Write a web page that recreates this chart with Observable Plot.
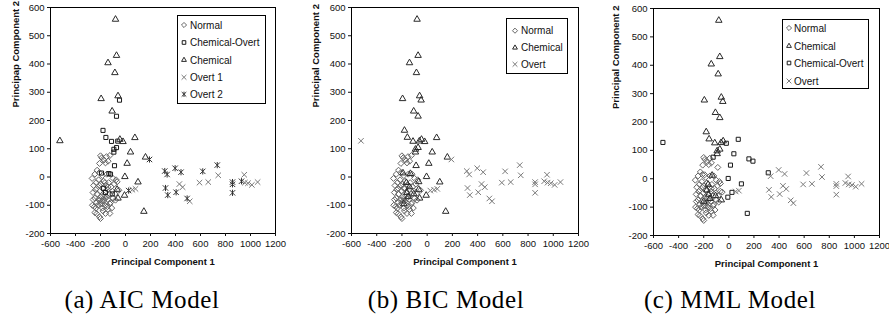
<!DOCTYPE html>
<html><head><meta charset="utf-8">
<script src="https://cdn.jsdelivr.net/npm/d3@7"></script>
<script src="https://cdn.jsdelivr.net/npm/@observablehq/plot@0.6"></script>
<style>
body{margin:0;background:#fff;}
#root{position:relative;width:889px;height:320px;overflow:hidden;font-family:Arial,"Liberation Sans",sans-serif;}
.panel{position:absolute;top:0;}
.cap{position:absolute;top:286px;font-family:"Liberation Serif",serif;font-size:25px;letter-spacing:0.6px;line-height:28px;white-space:nowrap;transform:translateX(-50%);color:#000;}
.leg{position:absolute;}
</style></head><body><div id="root"></div>
<script>
// Tick labels
const xTicks = [-600,-400,-200,0,200,400,600,800,1000,1200];
const yTicks = [-200,-100,0,100,200,300,400,500,600];

// Points that are labelled Normal by all three models
const normalX = [-200,-208,-173,-152,-139,-190,-160,
  -227,-267,-245,-210,-185,-150,-100,
  -255,-235,-215,-195,-175,-155,-135,-115,-90,
  -260,-240,-225,-205,-185,-165,-145,-125,-105,-85,
  -259,-245,-230,-215,-195,-175,-160,-140,-120,-100,-80,
  -265,-250,-235,-220,-200,-185,-165,-145,-125,-110,
  -245,-230,-208,-200,-180,-160,-125,
  -53,-75,-210,-190,-170,-230,-140];
const normalY = [75,48,60,72,56,68,50,
  24,-5,10,15,5,10,-5,
  -30,-20,-10,-25,-15,-30,-20,-35,-25,
  -55,-45,-60,-50,-40,-55,-45,-60,-50,-60,
  -80,-75,-90,-80,-70,-85,-75,-80,-90,-75,-82,
  -100,-105,-110,-100,-95,-110,-100,-105,-95,-110,
  -126,-130,-141,-147,-120,-129,-129,
  -47,-10,-30,-85,-65,-40,-115];

// Remaining points, with the class each model gives them
const otherX = [-80,-72,-140,-85,-195,-60,-48,-107,-72,-180,
  -157,-112,-62,-45,-20,75,-72,-93,-93,40,
  160,192,-88,13,-5,100,-8,147,-525,-60,
  -67,-67,25,55,80,
  314,333,397,444,320,338,405,431,457,493,
  514,592,618,662,734,742,856,856,856,928,
  950,955,980,1011,1057,
  -192,-133,-120,-106,-160,-175,-125,-150,-185,-140,-200,-165];
const otherY = [558,430,404,369,277,287,272,233,215,165,
  140,126,127,133,125,139,104,98,88,88,
  70,62,40,48,1,-18,-65,-122,128,-75,
  -44,-17,-48,-45,-42,
  21,9,31,17,-39,-64,-54,-25,-36,-76,
  -86,-20,20,-18,42,6,-18,-26,-56,-15,
  8,-20,-22,-28,-18,
  14,12,10,-60,-55,-40,76,-70,-95,-35,-80,-20];
const otherAIC = ("C C C C C C CO C CO CO CO CO CO C C C CO CO CO C " +
  "C O2 CO C C C C C C C C N O2 O1 O1 " +
  "O2 O2 O2 O2 O2 O2 O2 O1 O1 O2 O1 O1 O2 O1 O2 O1 O2 O2 O2 O2 O1 O1 O1 O1 O1 " +
  "CO CO CO CO CO CO N N N N N N").split(" ");
const otherBIC = ("C C C C C C C C C C C C C C C C C C C C " +
  "C O C C C C C C O C C C O O O " +
  "O O O O O O O O O O O O O O O O O O O O O O O O O " +
  "C C N C C N N C C C N C").split(" ");
const otherMML = ("C C C C C C C C C C C C C C CO CO C C C CO " +
  "CO CO N CO CO CO CO CO CO C N N CO O O " +
  "CO O O O O O O O O O O O O O O O O O O O O O O O O " +
  "N C N C C C CO C N N C C").split(" ");

const classNames = {N:"Normal", C:"Chemical", CO:"Chemical-Overt", O:"Overt", O1:"Overt 1", O2:"Overt 2"};

// styling
const star = {draw(ctx, size){ const r = Math.sqrt(size/Math.PI);
  ctx.moveTo(-r,-r); ctx.lineTo(r,r); ctx.moveTo(-r,r); ctx.lineTo(r,-r);
  ctx.moveTo(0,-r*1.15); ctx.lineTo(0,r*1.15);}};
const symOf = {N:"diamond2", C:"triangle2", CO:"square2", O:"times", O1:"times", O2:star};
const d3Sym = {N:d3.symbolDiamond2, C:d3.symbolTriangle2, CO:d3.symbolSquare2, O:d3.symbolTimes, O1:d3.symbolTimes, O2:star};
const colOf = {N:"#666", C:"#2a2a2a", CO:"#1a1a1a", O:"#7a7a7a", O1:"#7a7a7a", O2:"#333"};
const rOf = {N:2.7, C:3.1, CO:2.6, O:2.6, O1:2.6, O2:2.7};

const rows = [];
normalX.forEach((x,i)=>rows.push({x, y:normalY[i], aic:"N", bic:"N", mml:"N"}));
otherX.forEach((x,i)=>rows.push({x, y:otherY[i], aic:otherAIC[i], bic:otherBIC[i], mml:otherMML[i]}));

const panels = [
  {key:"aic", left:0, frameL:50, frameR:275, top:7, bottom:233, ylabel:"Principap Component 2",
   order:["N","CO","C","O1","O2"], leg:{x:177,y:15,w:88,h:88,sx:7,tx:13,rows:[10,27.5,45,62.3,79.3]},
   caption:"(a) AIC Model", capX:142},
  {key:"bic", left:300, frameL:351, frameR:578, top:7, bottom:233, ylabel:"Principal Component 2",
   order:["N","C","O"], leg:{x:506,y:18,w:61,h:55,sx:9,tx:15,rows:[12.7,29.7,46.3]},
   caption:"(b) BIC Model", capX:446},
  {key:"mml", left:600, frameL:653, frameR:879, top:8, bottom:235, ylabel:"Principal Component 2",
   order:["N","C","CO","O"], leg:{x:782,y:19,w:86,h:69,sx:7,tx:12,rows:[9,27,44,62]},
   caption:"(c) MML Model", capX:730}
];

const root = document.getElementById("root");
const H = 272;
for (const p of panels) {
  const W = Math.min(p.frameR - p.left + 7, 889 - p.left);
  const marks = [Plot.frame({stroke:"#000"})];
  for (const c of p.order) {
    marks.push(Plot.dot(rows.filter(d=>d[p.key]===c), {x:"x", y:"y", symbol: symOf[c], r: rOf[c],
      stroke: colOf[c], fill:"none", strokeWidth:1}));
  }
  marks.push(
    Plot.axisX({ticks:xTicks, tickFormat:d=>String(d), tickSize:3, tickPadding:4, label:null, fontSize:9.5}),
    Plot.axisY({ticks:yTicks, tickFormat:d=>String(d), tickSize:3, tickPadding:3, label:null, fontSize:9.5}),
    Plot.text(["Principal Component 1"], {text:d=>d, frameAnchor:"bottom", dy:31, fontWeight:"bold", fontSize:9.5}),
    Plot.text([p.ylabel], {text:d=>d, frameAnchor:"left", dx:-(p.frameL-p.left-15), dy:-13, rotate:-90, fontWeight:"bold", fontSize:9.5})
  );
  const chart = Plot.plot({
    width: W, height: H,
    marginLeft: p.frameL - p.left, marginRight: W - (p.frameR - p.left),
    marginTop: p.top, marginBottom: H - p.bottom,
    x:{domain:[-600,1200]}, y:{domain:[-200,600]},
    style:{fontFamily:"Arial, 'Liberation Sans', sans-serif", fontSize:"9.5px", color:"#111", background:"transparent", overflow:"visible"},
    marks
  });
  chart.classList.add("panel");
  chart.style.left = p.left + "px";
  root.appendChild(chart);

  // legend box
  const L = p.leg;
  const svg = d3.create("svg").attr("class","leg").attr("width",L.w+1).attr("height",L.h+1)
    .style("left",L.x+"px").style("top",L.y+"px");
  svg.append("rect").attr("x",0.5).attr("y",0.5).attr("width",L.w).attr("height",L.h)
    .attr("fill","#fff").attr("stroke","#000");
  p.order.forEach((c,i)=>{
    const cy = L.rows[i];
    svg.append("path").attr("d", d3.symbol(d3Sym[c], Math.PI*2.3*2.3)())
      .attr("transform",`translate(${L.sx},${cy})`).attr("fill","none").attr("stroke",colOf[c]);
    svg.append("text").attr("x",L.tx).attr("y",cy).attr("dy","0.35em")
      .attr("font-family","Arial, 'Liberation Sans', sans-serif").attr("font-size",10).attr("fill","#111")
      .text(classNames[c]);
  });
  root.appendChild(svg.node());

  const cap = document.createElement("div");
  cap.className = "cap"; cap.style.left = p.capX + "px"; cap.textContent = p.caption;
  root.appendChild(cap);
}
</script></body></html>
